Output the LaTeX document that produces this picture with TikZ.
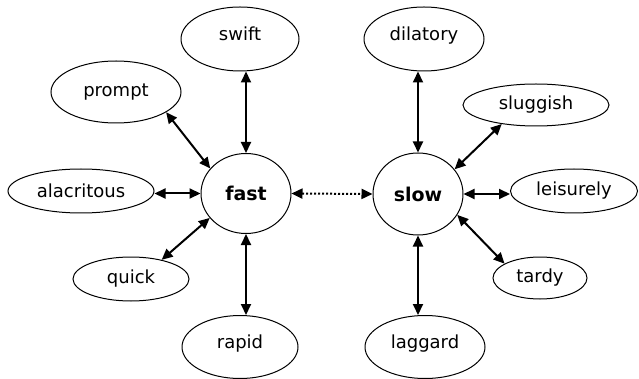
\documentclass[tikz,border=0pt]{standalone}
\usepackage{fontspec}
\setmainfont{DejaVu Sans}
\usetikzlibrary{shapes.geometric,arrows.meta}
\tikzset{
  word/.style={ellipse,draw,line width=1pt,inner sep=0pt,font=\fontsize{18}{20}\selectfont},
  tallword/.style={word,text height=13pt,text depth=10pt},
  hub/.style={word,font=\fontsize{19}{21}\selectfont\bfseries},
  link/.style={line width=2pt,{Triangle[length=11pt,width=10pt]}-{Triangle[length=11pt,width=10pt]}},
  dotlink/.style={link,dash pattern=on 2pt off 2pt}
}
\begin{document}
\begin{tikzpicture}[x=1pt,y=-1pt]
\useasboundingbox (0,0) rectangle (639,379);
\node[hub,minimum width=90pt,minimum height=80pt] (fast) at (246,193.5) {fast};
\node[hub,minimum width=90pt,minimum height=82pt] (slow) at (418,194) {slow};
\node[tallword,minimum width=118pt,minimum height=64pt] (swift) at (240,39) {swift};
\node[word,minimum width=130pt,minimum height=62pt] (prompt) at (116,92) {prompt};
\node[word,minimum width=146pt,minimum height=44pt] (alacritous) at (81,191) {alacritous};
\node[word,minimum width=116pt,minimum height=44pt] (quick) at (131,279) {quick};
\node[tallword,minimum width=116pt,minimum height=63pt] (rapid) at (240,347) {rapid};
\node[tallword,minimum width=120pt,minimum height=64pt] (dilatory) at (424,39) {dilatory};
\node[word,minimum width=146pt,minimum height=42pt] (sluggish) at (536,105) {sluggish};
\node[word,minimum width=127pt,minimum height=44pt] (leisurely) at (574,191) {leisurely};
\node[word,minimum width=94pt,minimum height=42pt] (tardy) at (540,278) {tardy};
\node[tallword,minimum width=120pt,minimum height=63pt] (laggard) at (425,347) {laggard};

\draw[link] (fast.north) -- (fast.north |- swift.south);
\draw[link] (fast.south) -- (fast.south |- rapid.north);
\draw[link] (fast.west) -- (fast.west -| alacritous.east);
\draw[link] (fast.145) -- (prompt.-22);
\draw[link] (fast.214) -- (quick.32);
\draw[dotlink] (fast.east) -- (slow.west);
\draw[link] (slow.north) -- (slow.north |- dilatory.south);
\draw[link] (slow.south) -- (slow.south |- laggard.north);
\draw[link] (slow.east) -- (slow.east -| leisurely.west);
\draw[link] (slow.34) -- (sluggish.209);
\draw[link] (slow.-28) -- (tardy.158);
\end{tikzpicture}
\end{document}
